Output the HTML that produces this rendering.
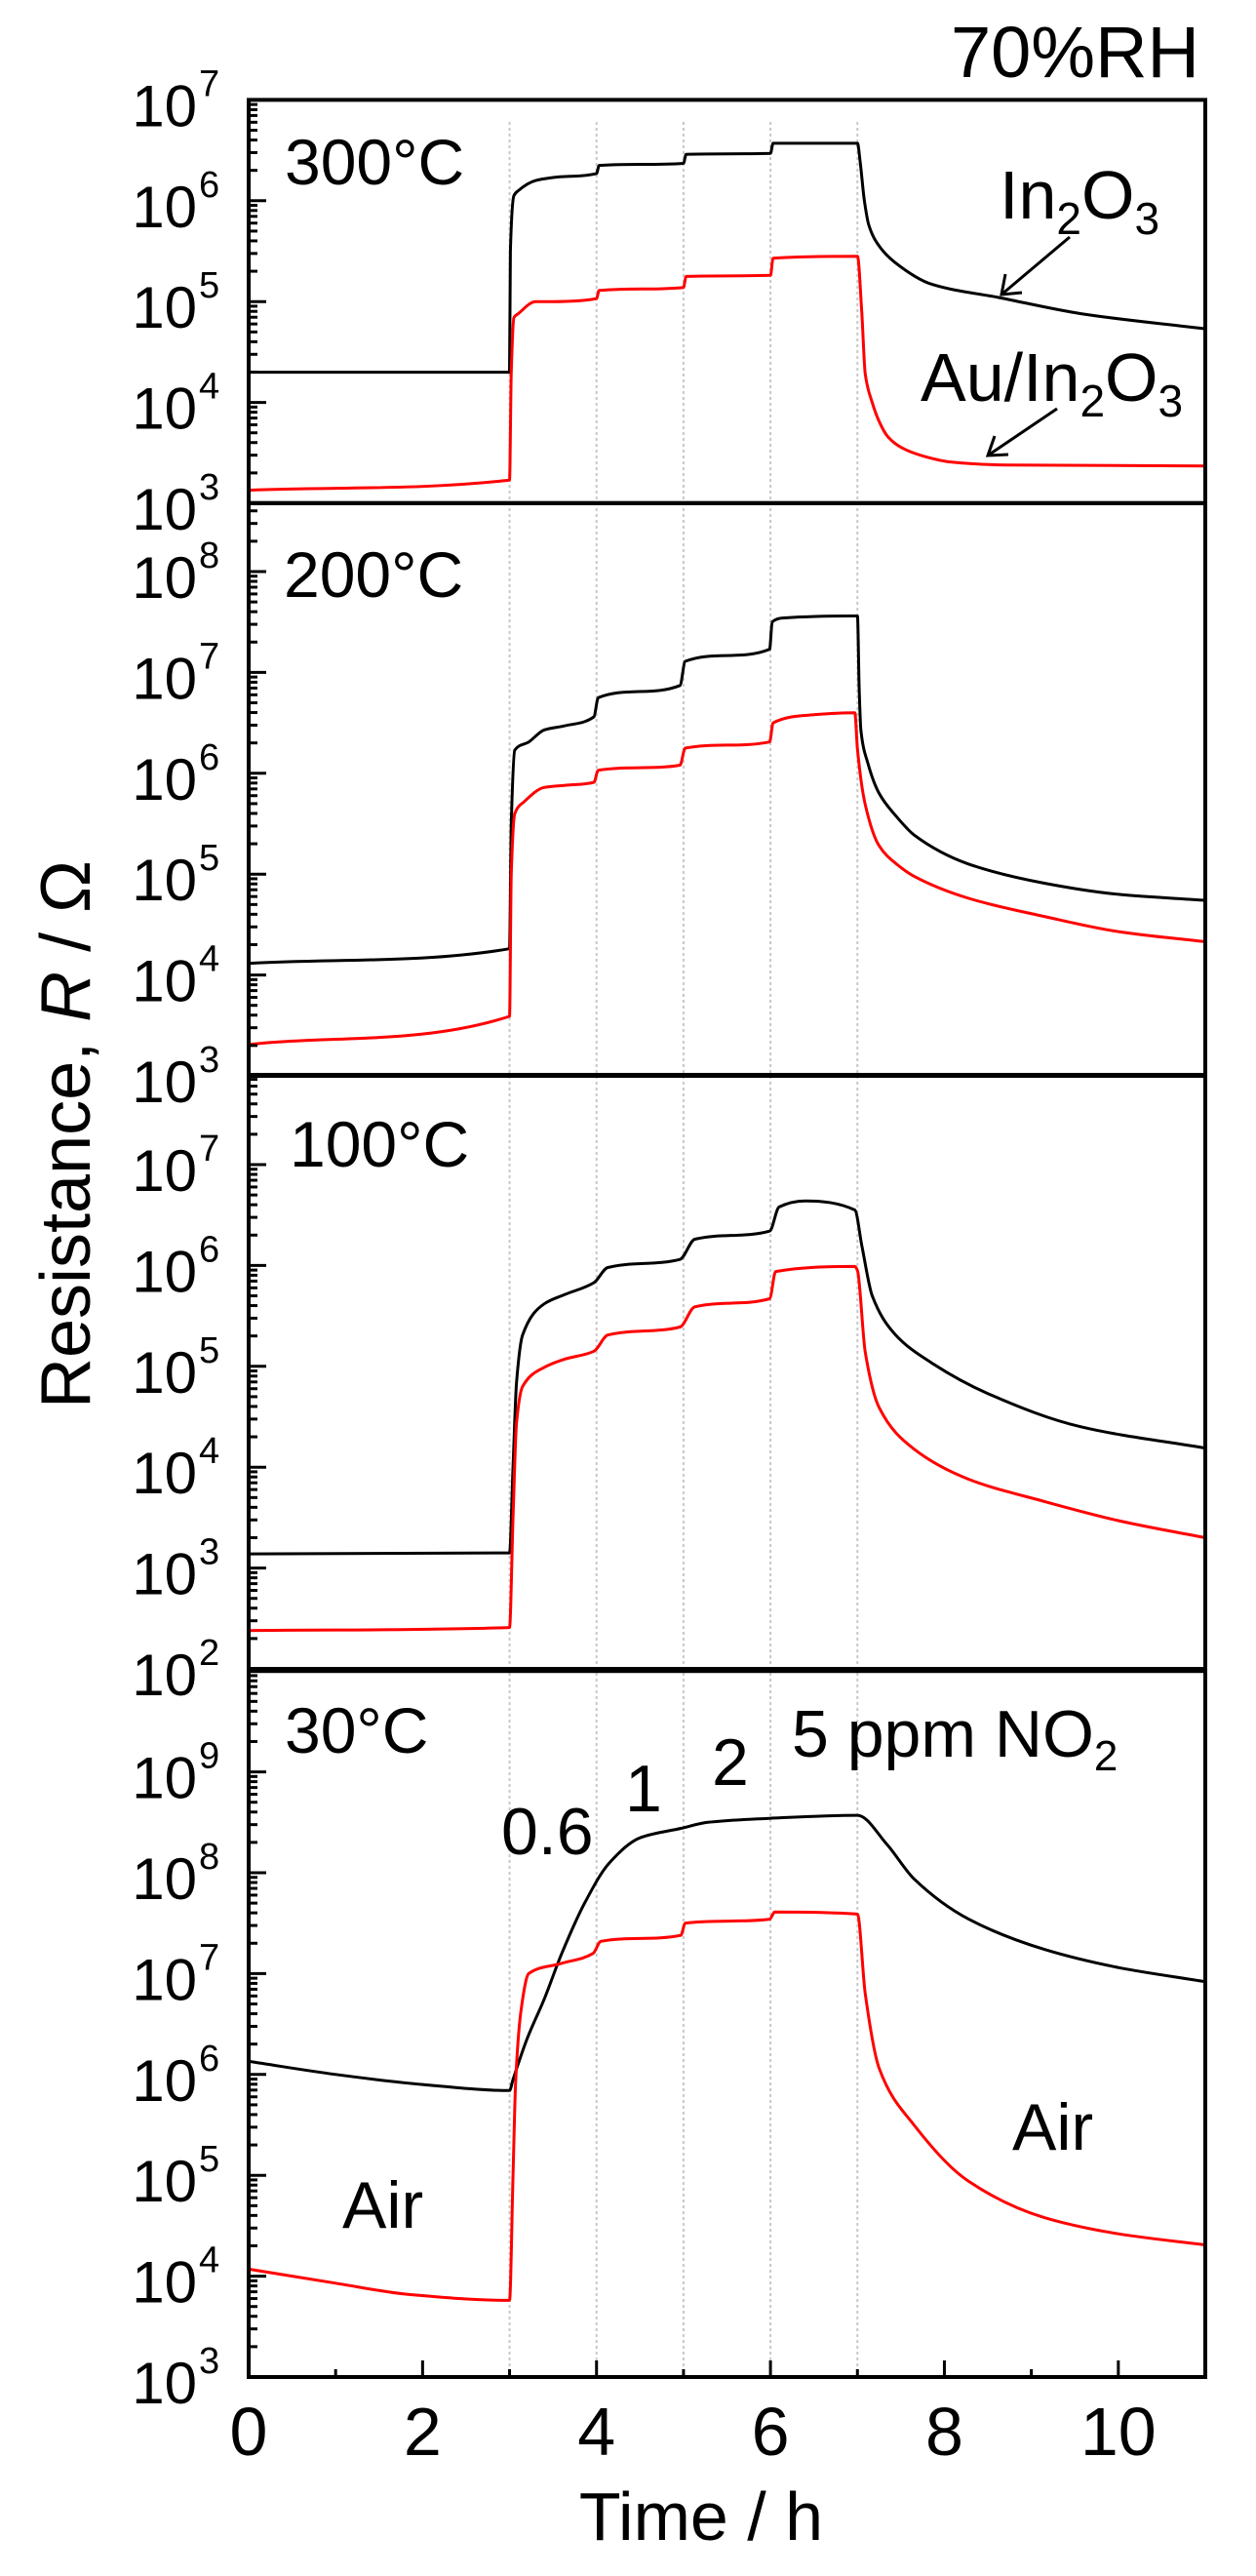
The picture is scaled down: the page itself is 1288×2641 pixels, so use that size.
<!DOCTYPE html>
<html><head><meta charset="utf-8"><title>Resistance vs time</title>
<style>
html,body{margin:0;padding:0;background:#fff;}
svg{display:block;font-family:"Liberation Sans",Arial,sans-serif;}
</style></head>
<body>
<svg id="chart" width="1288" height="2641" viewBox="0 0 1288 2641" xmlns="http://www.w3.org/2000/svg">
<rect x="0" y="0" width="1288" height="2641" fill="#fff"/>
<g id="grid"></g>
<g id="curves"></g>
<g id="axes"></g>
<g id="labels"></g>
<text x="975" y="79" font-size="74">70%RH</text>
<text x="1025" y="224" font-size="70">In<tspan font-size="46" dy="16">2</tspan><tspan dy="-16">O</tspan><tspan font-size="46" dy="16">3</tspan></text>
<text x="944" y="411" font-size="70">Au/In<tspan font-size="46" dy="16">2</tspan><tspan dy="-16">O</tspan><tspan font-size="46" dy="16">3</tspan></text>
<g stroke="#000" stroke-width="3" fill="none">
<line x1="1097" y1="243" x2="1027" y2="302"/><polyline points="1031,281 1027,302 1048,300"/></g>
<g stroke="#000" stroke-width="3" fill="none">
<line x1="1084" y1="419" x2="1013" y2="467"/><polyline points="1020,447 1013,467 1034,466"/></g>
<text x="292" y="189" font-size="66">300°C</text>
<text x="291" y="612" font-size="66">200°C</text>
<text x="297" y="1196" font-size="66">100°C</text>
<text x="292" y="1797" font-size="66">30°C</text>
<text x="514" y="1901" font-size="68">0.6</text>
<text x="641" y="1857" font-size="68">1</text>
<text x="730" y="1830" font-size="68">2</text>
<text x="812" y="1801" font-size="68">5 ppm NO<tspan font-size="44" dy="14">2</tspan></text>
<text x="351" y="2284" font-size="68">Air</text>
<text x="1038" y="2204" font-size="68">Air</text>
<text x="719" y="2604" font-size="70" text-anchor="middle">Time / h</text>
<text transform="translate(92,1163) rotate(-90)" font-size="72" text-anchor="middle">Resistance, <tspan font-style="italic">R</tspan> / Ω</text>
</svg>
<script>
// x axis
const xTicks = [0,1,2,3,4,5,6,7,8,9,10,11];
const xTickLabels = ["0","","2","","4","","6","","8","","10",""];
const gasTimes = [3,4,5,6,7];
// panels
const panelNames = ["300C","200C","100C","30C"];
const panelLogMax = [7, 8.68, 7.89, 10];
const panelLogMin = [3, 3, 2, 3];
// series data (time in h, log10 R in ohm)
const t300Black = [0,3,3.01,3.05,3.1,3.3,3.5,4.0,4.03,5.0,5.03,6.0,6.03,7.0,7.03,7.08,7.13,7.25,7.43,7.86,8.63,9.57,11];
const r300Black = [4.30,4.30,5.5,6.05,6.1,6.2,6.23,6.27,6.35,6.37,6.46,6.47,6.57,6.57,6.4,6.0,5.76,5.55,5.39,5.17,5.04,4.88,4.73];
const t300Red = [0,3,3.02,3.05,3.1,3.3,3.5,4.0,4.03,5.0,5.03,6.0,6.03,7.0,7.05,7.09,7.17,7.25,7.35,7.51,7.75,8.07,8.71,11];
const r300Red = [3.13,3.23,4.3,4.84,4.88,5.0,5.0,5.03,5.11,5.14,5.25,5.26,5.43,5.45,4.9,4.28,4.0,3.81,3.66,3.55,3.47,3.41,3.38,3.37];
const t200Black = [0,3,3.02,3.06,3.22,3.4,3.63,3.97,4.02,4.96,5.02,5.99,6.02,6.14,6.97,7.0,7.02,7.04,7.12,7.25,7.45,7.65,8.28,9.15,10,11];
const r200Black = [4.115,4.26,5.5,6.23,6.31,6.43,6.47,6.56,6.75,6.87,7.11,7.23,7.5,7.54,7.56,7.56,6.83,6.43,6.1,5.80,5.57,5.39,5.10,4.91,4.80,4.74];
const t200Red = [0,3,3.02,3.06,3.17,3.4,3.63,3.97,4.02,4.96,5.02,5.99,6.03,6.5,6.97,7.0,7.09,7.25,7.45,7.65,8.28,9.15,10,11];
const r200Red = [3.31,3.59,5.0,5.60,5.72,5.86,5.88,5.91,6.03,6.08,6.25,6.31,6.50,6.58,6.60,6.24,5.69,5.28,5.10,4.98,4.76,4.58,4.43,4.33];
const t100Black = [0,3,3.04,3.08,3.15,3.4,3.63,3.97,4.13,4.96,5.13,5.99,6.1,6.4,6.97,7.05,7.17,7.43,7.86,8.5,9.57,11];
const r100Black = [3.14,3.15,4.0,4.84,5.31,5.62,5.71,5.83,5.98,6.06,6.26,6.34,6.58,6.64,6.55,6.2,5.70,5.32,5.03,4.73,4.40,4.19];
const t100Red = [0,3,3.04,3.08,3.15,3.4,3.63,3.97,4.13,4.96,5.13,5.99,6.06,6.97,7.0,7.09,7.25,7.65,8.28,9.15,10,11];
const r100Red = [2.38,2.41,3.5,4.44,4.80,4.99,5.07,5.15,5.31,5.39,5.59,5.67,5.94,5.99,5.95,5.14,4.59,4.18,3.88,3.66,3.47,3.30];
const t30Black = [0,1,2,3,3.04,3.2,3.4,3.6,3.87,4.14,4.51,4.97,5.28,5.99,7.0,7.34,7.65,8.28,9.15,10,11];
const r30Black = [6.13,6.0,5.9,5.84,5.95,6.35,6.75,7.2,7.71,8.09,8.35,8.44,8.50,8.54,8.57,8.28,7.94,7.54,7.24,7.06,6.92];
const t30Red = [0,1,1.83,3,3.04,3.07,3.13,3.22,3.59,3.96,4.05,4.97,5.02,5.99,6.05,7.0,7.09,7.25,7.65,8.28,9.15,10,11];
const r30Red = [4.07,3.93,3.82,3.76,5.0,5.93,6.62,7.0,7.10,7.20,7.32,7.38,7.50,7.54,7.61,7.59,6.80,6.06,5.50,4.94,4.58,4.42,4.31];

const NS = "http://www.w3.org/2000/svg";
const X0 = 255, X1 = 1236, XMAX = 11;
const DEC = 103.4;
const panelBottomPx = [516, 1103, 1711, 2437];
function xScale(t){ return X0 + t*(X1-X0)/XMAX; }
function yScale(p, lg){ return panelBottomPx[p] - (lg - panelLogMin[p])*DEC; }
function panelTop(p){ return yScale(p, panelLogMax[p]); }
function mk(tag, attrs, parent){
  const el = document.createElementNS(NS, tag);
  for (const k in attrs) el.setAttribute(k, attrs[k]);
  parent.appendChild(el);
  return el;
}
// monotone cubic path (Fritsch-Carlson)
function monotonePath(xs, ys){
  const n = xs.length;
  const d = [], m = [];
  for (let i=0;i<n-1;i++) d.push((ys[i+1]-ys[i])/(xs[i+1]-xs[i]));
  m[0] = d[0]; m[n-1] = d[n-2];
  for (let i=1;i<n-1;i++){
    if (d[i-1]*d[i] <= 0) m[i] = 0;
    else { const w1 = 2*(xs[i+1]-xs[i])+(xs[i]-xs[i-1]), w2 = (xs[i+1]-xs[i])+2*(xs[i]-xs[i-1]);
      m[i] = (w1+w2)/(w1/d[i-1]+w2/d[i]); }
  }
  let s = 'M'+xs[0].toFixed(1)+','+ys[0].toFixed(1);
  for (let i=0;i<n-1;i++){
    const h = (xs[i+1]-xs[i])/3;
    s += ' C'+(xs[i]+h).toFixed(1)+','+(ys[i]+m[i]*h).toFixed(1)+' '+(xs[i+1]-h).toFixed(1)+','+(ys[i+1]-m[i+1]*h).toFixed(1)+' '+xs[i+1].toFixed(1)+','+ys[i+1].toFixed(1);
  }
  return s;
}
const grid = document.getElementById('grid');
const curves = document.getElementById('curves');
const axes = document.getElementById('axes');
const labels = document.getElementById('labels');

gasTimes.forEach(t => {
  const l = mk('line', {x1:xScale(t), x2:xScale(t), y1:125, y2:panelBottomPx[3], stroke:'#c8c8c8', 'stroke-width':2, 'stroke-dasharray':'3,3'}, grid);
  
  
});

const seriesT = [[t300Black,t300Red],[t200Black,t200Red],[t100Black,t100Red],[t30Black,t30Red]];
const seriesR = [[r300Black,r300Red],[r200Black,r200Red],[r100Black,r100Red],[r30Black,r30Red]];
const seriesColor = ['#000','#ff0000'];
const seriesName = ['in2o3','au-in2o3'];
for (let p=0; p<4; p++){
  for (let s=0; s<2; s++){
    const ts = seriesT[p][s], rs = seriesR[p][s];
    const xs = ts.map(t => xScale(t));
    const ys = rs.map(r => yScale(p, r));
    const pl = mk('path', {d:monotonePath(xs, ys), fill:'none', stroke:seriesColor[s], 'stroke-width':3, 'stroke-linejoin':'round'}, curves);
    
    
  }
}

for (let p=0; p<4; p++){
  const top = panelTop(p), bot = panelBottomPx[p];
  const fr = mk('rect', {x:X0, y:top, width:X1-X0, height:bot-top, fill:'none', stroke:'#000', 'stroke-width':4}, axes);
  
  
  for (let d=panelLogMin[p]; d<panelLogMax[p]; d++){
    for (let k=1; k<=9; k++){
      const lg = d + Math.log10(k);
      if (lg > panelLogMax[p]) break;
      const y = yScale(p, lg);
      const len = (k===1)?18:9;
      mk('line', {x1:X0, x2:X0+len, y1:y, y2:y, stroke:'#000', 'stroke-width':3}, axes);
    }
  }
  for (let d=panelLogMin[p]; d<=Math.floor(panelLogMax[p]); d++){
    if (p===3 && d===10) continue;
    const y = yScale(p, d);
    const tx = mk('text', {x:202, y:y+27, 'font-size':60, 'text-anchor':'end'}, labels);
    tx.textContent = '10';
    
    
    const sp = mk('text', {x:204, y:y-4, 'font-size':38}, labels);
    sp.textContent = String(d);
    
    
  }
}
xTicks.forEach((t,i) => {
  const x = xScale(t);
  const len = (t%2===0)?17:8;
  mk('line', {x1:x, x2:x, y1:panelBottomPx[3], y2:panelBottomPx[3]-len, stroke:'#000', 'stroke-width':3}, axes);
  if (xTickLabels[i]){
    const tx = mk('text', {x:x, y:2517, 'font-size':70, 'text-anchor':'middle'}, labels);
    tx.textContent = xTickLabels[i];
    
    
  }
});
</script>
</body></html>
